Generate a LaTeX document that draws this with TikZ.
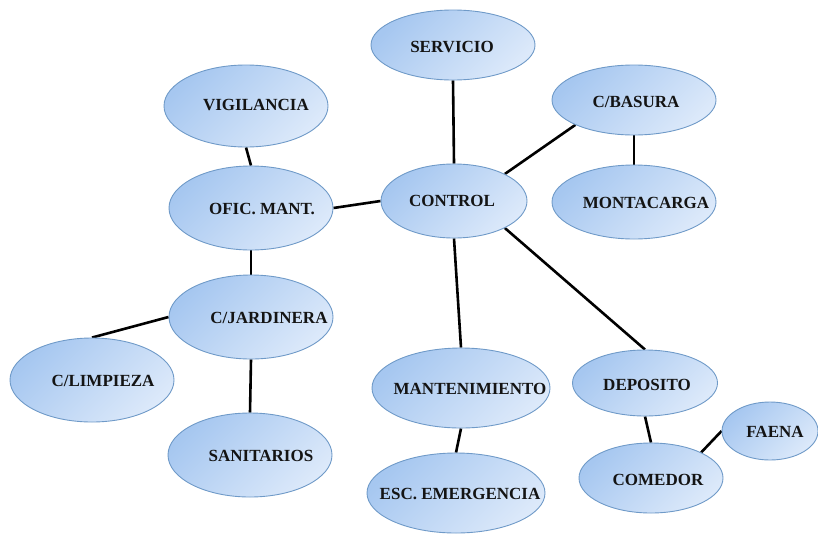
\documentclass[tikz,border=0pt]{standalone}
\usepackage{fontspec}
\setmainfont{Liberation Serif}
\usetikzlibrary{shapes.geometric,backgrounds}
\definecolor{ellDark}{HTML}{A6C7F0}
\definecolor{ellLight}{HTML}{DCE9FA}
\definecolor{ellEdge}{HTML}{6F9AC8}
\begin{document}
\begin{tikzpicture}[x=1pt,y=-1pt,
  bub/.style={ellipse, draw=ellEdge, line width=0.9pt, inner sep=0pt,
    top color=ellDark, bottom color=ellLight, shading angle=45},
  txt/.style={font=\fontsize{17}{20}\selectfont\bfseries, text=black!92, inner sep=0pt},
  link/.style={line width=2.6pt, black}]
\useasboundingbox (0,0) rectangle (818,533);
% ellipses
\node[bub, minimum width=164pt, minimum height=70pt] (serv) at (453,45) {};
\node[bub, minimum width=164pt, minimum height=82pt] (vig) at (246,106) {};
\node[bub, minimum width=164pt, minimum height=70pt] (bas) at (634,100) {};
\node[bub, minimum width=164pt, minimum height=84pt] (ofic) at (251,208) {};
\node[bub, minimum width=146pt, minimum height=74pt] (ctrl) at (454,201) {};
\node[bub, minimum width=164pt, minimum height=74pt] (mont) at (634,202) {};
\node[bub, minimum width=164pt, minimum height=84pt] (jard) at (251,317) {};
\node[bub, minimum width=164pt, minimum height=84pt] (limp) at (92,380) {};
\node[bub, minimum width=164pt, minimum height=84pt] (san) at (250,455) {};
\node[bub, minimum width=178pt, minimum height=80pt] (mant) at (461,388) {};
\node[bub, minimum width=178pt, minimum height=80pt] (esc) at (456,493) {};
\node[bub, minimum width=145pt, minimum height=66pt] (dep) at (645,383) {};
\node[bub, minimum width=96pt, minimum height=58pt] (faena) at (770,431) {};
\node[bub, minimum width=144pt, minimum height=70pt] (com) at (651,478) {};
% connectors
\begin{scope}[on background layer]
\draw[link] (serv.south) -- (ctrl.north);
\draw[link] (vig.south) -- (ofic.north);
\draw[link] (ofic.east) -- (ctrl.west);
\draw[link] (ctrl.28) -- (bas.203);
\draw[link] (bas.south) -- (mont.north);
\draw[link] (ofic.south) -- (jard.north);
\draw[link] (jard.west) -- (limp.north);
\draw[link] (jard.south) -- (san.north);
\draw[link] (ctrl.south) -- (mant.north);
\draw[link] (mant.south) -- (esc.north);
\draw[link] (ctrl.-28) -- (dep.north);
\draw[link] (dep.south) -- (com.north);
\draw[link] (com.27) -- (faena.west);
\end{scope}
% texts
\node[txt] (tserv) at (452,47) {SERVICIO};
\node[txt] (tvig) at (256,105) {VIGILANCIA};
\node[txt] (tbas) at (636,102) {C/BASURA};
\node[txt] (tofic) at (262,209) {OFIC. MANT.};
\node[txt] (tctrl) at (452,201) {CONTROL};
\node[txt] (tmont) at (646,203) {MONTACARGA};
\node[txt] (tjard) at (269,318) {C/JARDINERA};
\node[txt] (tlimp) at (103,381) {C/LIMPIEZA};
\node[txt] (tsan) at (261,456) {SANITARIOS};
\node[txt] (tmant) at (470,389) {MANTENIMIENTO};
\node[txt] (tesc) at (460,494) {ESC. EMERGENCIA};
\node[txt] (tdep) at (647,385) {DEPOSITO};
\node[txt] (tcom) at (658,480) {COMEDOR};
\node[txt] (tfaena) at (775,432) {FAENA};
\end{tikzpicture}
\end{document}
